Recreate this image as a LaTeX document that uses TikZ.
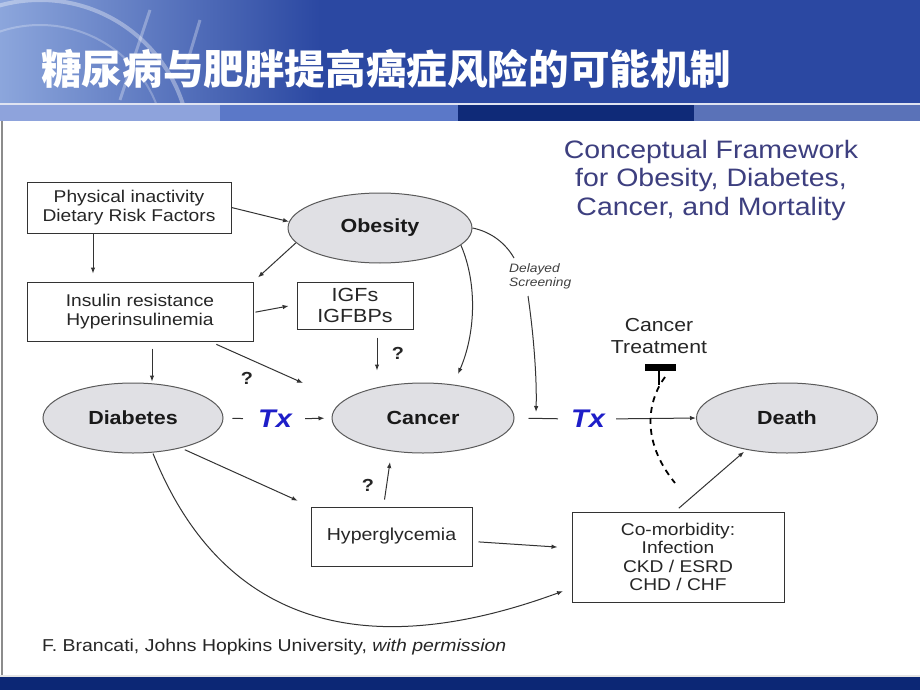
\documentclass[tikz,border=0pt]{standalone}
\usepackage{fontspec}
\setmainfont{Liberation Sans}[FakeStretch=1.13]
\newfontfamily\cjk{Noto Sans CJK SC}
\usetikzlibrary{shapes.geometric,arrows.meta}
\definecolor{hdr}{HTML}{2B48A2}
\definecolor{hdrlight}{HTML}{8CA6DC}
\definecolor{stripA}{HTML}{8EA3DC}
\definecolor{stripB}{HTML}{5B78C8}
\definecolor{stripC}{HTML}{0F2A78}
\definecolor{stripD}{HTML}{5A72B8}
\definecolor{navy}{HTML}{0C2775}
\definecolor{linec}{HTML}{333333}
\definecolor{ovalc}{HTML}{5A5A5A}
\definecolor{ovalf}{HTML}{E0E0E4}
\definecolor{txblue}{HTML}{1E1EC8}
\definecolor{fwc}{HTML}{3D3F7F}
\newcommand{\fsz}[2]{\fontsize{#1}{#2}\selectfont}
\begin{document}
\begin{tikzpicture}[x=1pt,y=-1pt,
  line/.style={draw=linec, line width=1pt},
  arr/.style={line, -{Latex[length=6pt,width=4.5pt]}},
  box/.style={draw=linec, line width=1pt, rectangle, inner sep=0pt, align=center, text=black!85, font=\fsz{17}{19.5}},
  oval/.style={ellipse, draw=ovalc, fill=ovalf, line width=1pt, inner sep=0pt, text=black!90, font=\bfseries\fsz{19}{20}},
  txs/.style={inner sep=0pt, text=txblue, font=\bfseries\itshape\fsz{25.5}{25.5}},
  qm/.style={inner sep=0pt, text=black!85, font=\bfseries\fsz{17.5}{17.5}},
  plain/.style={inner sep=0pt, align=center, text=black!85}]
\useasboundingbox (0,0) rectangle (920,690);
% background
\fill[white] (0,0) rectangle (920,690);
\fill[hdr] (0,0) rectangle (920,104);
\shade[left color=hdrlight, right color=hdr] (0,0) rectangle (320,104);
\begin{scope}
\clip (0,0) rectangle (320,104);
\draw[white, opacity=0.35, line width=4pt] (40,150) circle (150);
\draw[white, opacity=0.25, line width=2pt] (40,150) circle (125);
\draw[white, opacity=0.3, line width=3pt] (150,10) -- (120,100);
\draw[white, opacity=0.3, line width=3pt] (200,20) -- (185,70);
\end{scope}
\fill[white!85!hdr] (0,103) rectangle (920,105);
\fill[stripA] (0,105) rectangle (220,121);
\fill[stripB] (220,105) rectangle (458,121);
\fill[stripC] (458,105) rectangle (694,121);
\fill[stripD] (694,105) rectangle (920,121);
\fill[navy] (0,677) rectangle (920,690);
\fill[black!10] (0,675) rectangle (920,677);
\draw[black!45, line width=2pt] (2,121) -- (2,675);
\node[anchor=west, inner sep=0pt, text=white, font=\cjk\bfseries\fsz{40.6}{40.6}] (title) at (41,69) {糖尿病与肥胖提高癌症风险的可能机制};
% framework title
\node[plain, text=fwc, font=\fsz{25.2}{28.5}] (fw) at (711,180) {Conceptual Framework\\for Obesity, Diabetes,\\Cancer, and Mortality};
% nodes
\node[box, minimum width=204pt, minimum height=51pt] (phys) at (129,207.5) {Physical inactivity\\Dietary Risk Factors};
\node[oval, minimum width=184pt, minimum height=70pt] (obes) at (380,228) {Obesity};
\node[box, minimum width=226pt, minimum height=59pt] (ins) at (140,311.5) {Insulin resistance\\Hyperinsulinemia};
\node[box, minimum width=116pt, minimum height=47pt, font=\fsz{19}{21.5}] (igf) at (355,305.5) {IGFs\\IGFBPs};
\node[oval, minimum width=180pt, minimum height=70pt] (diab) at (133,418) {Diabetes};
\node[oval, minimum width=182pt, minimum height=70pt] (canc) at (423,418) {Cancer};
\node[oval, minimum width=181pt, minimum height=70pt] (death) at (787,418) {Death};
\node[txs] (txl) at (275,419) {Tx};
\node[txs] (txr) at (588,419) {Tx};
\node[box, minimum width=161pt, minimum height=59pt, font=\fsz{17.3}{19.5}] (hyper) at (391.5,536.5) {Hyperglycemia};
\node[box, minimum width=212pt, minimum height=90pt, font=\fsz{17}{18.6}] (comor) at (678,557) {Co-morbidity:\\Infection\\CKD / ESRD\\CHD / CHF};
\node[plain, font=\fsz{18.8}{21.5}] (treat) at (659,336) {Cancer\\Treatment};
\node[fill=black, minimum width=31pt, minimum height=7pt, inner sep=0pt] (bar) at (660.5,367.5) {};
\node[anchor=west, inner sep=0pt, align=left, text=black!75, font=\itshape\fsz{12.2}{14}] (ds) at (509,276) {Delayed\\Screening};
\node[qm] (q1) at (247,378) {?};
\node[qm] (q2) at (398,353) {?};
\node[qm] (q3) at (368,485) {?};
\node[anchor=west, inner sep=0pt, text=black!85, font=\fsz{17.2}{19}] (cite) at (42,647) {F. Brancati, Johns Hopkins University, \textit{with permission}};
% free-end coordinates
\coordinate (e6) at (303,383);
\coordinate (e8) at (458,374);
\coordinate (dsa) at (514,258);
\coordinate (dsb) at (528,296);
\coordinate (dsc) at (536,412);
\coordinate (e12) at (390,462);
\coordinate (dc1) at (665,377);
\coordinate (dc2) at (675,483);
% connectors
\draw[arr] (phys.east) -- (obes.176);
\draw[arr, shorten >=8pt] ([xshift=-36pt]phys.south) -- ([xshift=-47pt]ins.north);
\draw[arr, shorten >=6pt] (obes.190) -- (ins.north east);
\draw[arr, shorten <=2pt, shorten >=8pt] ([yshift=-1pt]ins.east) -- ([yshift=1pt]igf.west);
\draw[arr, shorten <=7pt, shorten >=1pt] ([xshift=12pt]ins.south) -- ([xshift=19pt]diab.north);
\draw[arr, shorten <=7pt] ([xshift=70pt]ins.south) -- (e6);
\draw[arr, shorten <=8pt, shorten >=12pt] ([xshift=22pt]igf.south) -- ([xshift=-46pt]canc.north);
\draw[arr] (obes.348) .. controls (478,285) and (475,335) .. (e8);
\draw[line] (obes.east) .. controls (492,232) and (506,244) .. (dsa);
\draw[arr] (dsb) .. controls (533,330) and (537,375) .. (dsc);
\draw[line, shorten <=9pt, shorten >=15pt] (diab.east) -- (txl.west);
\draw[arr, shorten <=13pt, shorten >=7pt] (txl.east) -- (canc.west);
\draw[line, shorten <=14pt, shorten >=13pt] (canc.east) -- (txr.west);
\draw[arr, shorten <=11pt] (txr.east) -- (death.west);
\draw[arr, shorten <=7pt] ([xshift=-8pt]hyper.north) -- (e12);
\draw[arr, shorten <=4pt, shorten >=14pt] (diab.328) -- (hyper.north west);
\draw[arr, shorten <=6pt, shorten >=14pt] ([yshift=-5pt]hyper.east) -- ([yshift=9pt]comor.west);
\draw[arr, shorten >=9pt] ([xshift=20pt]diab.south) .. controls (240,670) and (430,640) .. ([yshift=-31pt]comor.west);
\draw[arr, shorten <=5pt, shorten >=3pt] ([xshift=-3pt]comor.north) -- (death.218);
\draw[black, line width=1.2pt] ([xshift=-1.5pt]bar.south) -- ++(0,14);
\draw[black, line width=1.8pt, dash pattern=on 6pt off 5pt] (dc1) .. controls (648,400) and (640,440) .. (dc2);
\end{tikzpicture}
\end{document}
